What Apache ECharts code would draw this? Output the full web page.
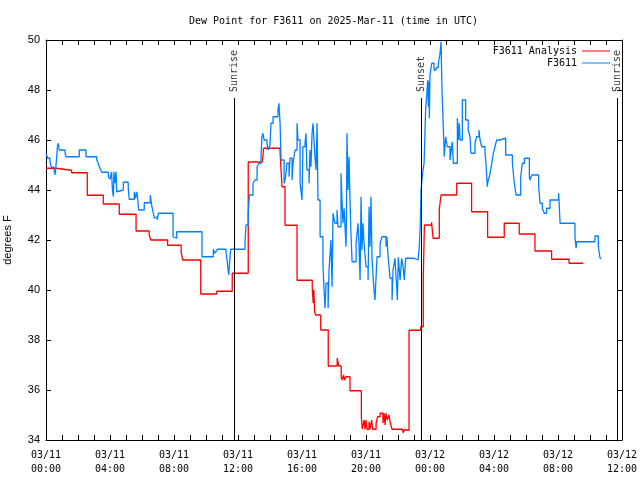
<!DOCTYPE html>
<html><head><meta charset="utf-8">
<script src="https://cdn.jsdelivr.net/npm/echarts/dist/echarts.min.js"></script>
<style>html,body{margin:0;padding:0;background:#fff}#c{width:640px;height:480px}</style>
</head><body><div id="c"></div>
<script>
// Hours since 2025-03-11 00:00 UTC
const anaHours = [0,0.63,1.6,2.58,3.58,4.58,5.63,6.45,6.55,7.6,8.45,8.55,9.67,10.67,11.64,12.64,13.52,13.6,14.63,14.69,14.75,14.94,15.69,16.64,16.7,16.74,16.79,16.85,17.17,17.64,18.2,18.3,18.45,18.52,18.6,18.67,18.75,19.0,19.71,19.77,19.88,19.94,20.0,20.06,20.19,20.25,20.35,20.42,20.63,20.73,20.88,21.06,21.13,21.19,21.25,21.33,21.44,21.52,21.63,22.27,22.33,22.39,22.69,23.42,23.58,23.65,24.1,24.19,24.58,24.69,25.67,26.6,27.6,28.64,29.58,30.56,31.6,32.69,33.58];
const anaValues = [44.87,44.79,44.69,43.79,43.44,43.03,42.36,42.2,42.0,41.79,41.5,41.2,39.84,39.95,40.67,45.12,45.2,45.67,45.52,44.8,44.13,42.59,40.39,40.1,39.48,40.0,39.13,39.0,38.4,36.96,37.27,36.96,36.53,36.4,36.6,36.4,36.53,35.97,34.93,34.43,34.8,34.43,34.8,34.43,34.73,34.43,34.8,34.43,34.67,34.93,35.07,34.67,35.07,34.6,35.07,34.8,35.0,34.67,34.43,34.5,34.29,34.4,38.39,38.53,40.53,42.6,42.71,42.07,43.23,43.8,44.27,43.13,42.11,42.67,42.24,41.56,41.23,41.07,41.07];

const obsHours = [0.0,0.1,0.25,0.29,0.35,0.5,0.56,0.6,0.67,0.71,0.77,0.83,1.19,1.25,2.08,2.5,3.17,3.27,3.33,3.42,3.5,3.9,4.0,4.1,4.15,4.21,4.25,4.31,4.38,4.42,4.48,4.83,5.14,5.2,5.52,5.6,5.67,5.73,5.79,6.14,6.52,6.6,6.71,6.77,6.88,6.96,7.02,7.94,8.06,8.17,9.75,10.46,10.56,10.67,10.71,11.25,11.33,11.38,11.42,11.46,11.54,12.44,12.5,12.64,12.71,12.94,13.06,13.19,13.31,13.44,13.5,13.56,13.63,13.81,13.88,14.0,14.06,14.19,14.5,14.56,14.63,14.69,14.88,14.97,15.06,15.19,15.25,15.38,15.44,15.56,15.69,15.75,15.88,16.0,16.06,16.19,16.25,16.31,16.44,16.5,16.56,16.63,16.69,16.81,16.88,16.94,17.0,17.13,17.31,17.38,17.44,17.5,17.63,17.69,17.81,17.88,17.94,18.06,18.19,18.25,18.44,18.5,18.56,18.63,18.69,18.75,18.78,18.81,18.88,18.94,19.0,19.06,19.13,19.38,19.5,19.56,19.63,19.69,19.75,19.81,19.88,20.0,20.13,20.19,20.25,20.31,20.38,20.5,20.56,20.63,20.69,20.88,21.0,21.25,21.31,21.38,21.44,21.5,21.63,21.69,21.81,21.88,21.96,22.02,22.13,22.23,22.33,22.39,22.48,23.0,23.25,23.33,23.39,23.44,23.54,23.63,23.73,23.79,23.86,23.9,23.94,23.96,24.0,24.11,24.25,24.38,24.52,24.63,24.69,24.75,24.79,24.86,24.89,24.98,25.08,25.25,25.33,25.39,25.46,25.71,25.77,25.83,25.88,26.02,26.23,26.39,26.5,26.56,26.81,26.92,27.06,27.13,27.23,27.44,27.5,27.58,27.64,27.71,27.79,27.86,27.96,28.06,28.17,28.33,28.73,29.15,29.27,29.38,29.67,29.77,29.9,30.21,30.25,30.36,30.79,30.88,31.02,31.14,31.29,31.5,32.04,32.13,33.06,33.13,33.17,34.31,34.52,34.63,34.7];
const obsValues = [45.47,45.27,45.13,45.0,44.91,44.8,44.6,44.8,45.33,45.73,45.87,45.6,45.47,45.33,45.6,45.33,45.2,45.07,44.93,44.8,44.71,44.53,44.43,44.73,44.0,43.73,44.73,44.27,44.73,43.93,44.0,44.31,44.07,43.63,43.93,43.67,43.93,43.67,43.2,43.49,43.8,43.4,43.07,42.87,42.93,42.8,43.07,42.13,42.07,42.33,41.33,41.63,41.47,41.4,41.63,41.5,41.13,40.8,40.6,41.0,41.63,41.93,42.6,43.07,43.8,44.27,44.4,44.93,45.07,45.4,46.13,46.27,46.0,45.87,45.6,45.8,46.67,46.93,47.2,47.47,46.67,45.2,44.27,44.5,45.07,44.53,45.27,44.4,45.07,45.6,46.67,46.0,44.27,43.6,45.73,45.87,46.27,44.8,44.27,45.6,44.93,46.27,46.67,45.33,44.8,46.67,43.6,42.13,41.0,40.0,39.27,40.27,39.27,40.8,42.0,40.13,43.07,42.67,43.2,42.53,44.67,43.6,42.67,43.27,42.53,41.73,43.07,46.27,44.0,45.33,43.6,42.27,41.13,41.87,42.67,41.87,40.4,43.73,41.6,42.67,41.87,40.93,40.4,43.33,41.73,43.73,41.2,40.0,39.6,40.53,41.33,41.87,42.13,41.73,42.13,41.33,40.93,40.47,39.6,40.8,41.27,40.53,39.6,41.31,40.4,41.27,40.87,40.4,41.27,41.2,41.16,41.73,42.6,44.0,44.67,45.07,47.27,47.73,48.4,47.33,48.33,46.87,48.6,49.07,48.8,48.9,49.07,49.47,49.93,48.0,47.27,46.0,45.33,46.13,45.73,45.2,45.6,45.93,45.07,46.87,46.0,46.67,46.0,47.6,46.8,46.4,46.13,45.47,45.87,46.13,46.4,46.0,45.73,45.47,45.07,44.13,44.4,44.53,44.8,45.07,45.47,45.73,46.0,46.07,45.4,45.07,44.27,43.8,44.53,45.07,45.27,44.53,44.4,44.6,44.13,43.47,43.27,43.07,43.27,43.6,43.87,42.67,42.13,41.67,41.93,42.16,41.73,41.27,41.27];

const xTickLabels = ['03/11\n00:00','03/11\n04:00','03/11\n08:00','03/11\n12:00','03/11\n16:00','03/11\n20:00','03/12\n00:00','03/12\n04:00','03/12\n08:00','03/12\n12:00'];
const eventHours = [11.78, 23.44, 35.69];
const eventNames = ['Sunrise', 'Sunset', 'Sunrise'];
const eventTop = 47.68;

const MONO = 'DejaVu Sans Mono';
const zip = (a, b) => a.map((v, i) => [v, b[i]]);

const baseX = {
  type: 'value', min: 0, max: 36, interval: 4,
  axisLine: { show: true, onZero: false, lineStyle: { color: '#000', width: 1 } },
  axisTick: { show: true, inside: true, length: 5, lineStyle: { color: '#000' } },
  minorTick: { show: true, splitNumber: 4, length: 5, lineStyle: { color: '#000' } },
  splitLine: { show: false }, minorSplitLine: { show: false }
};
const baseY = {
  type: 'value', min: 34, max: 50, interval: 2,
  axisLine: { show: true, onZero: false, lineStyle: { color: '#000', width: 1 } },
  axisTick: { show: true, inside: true, length: 5, lineStyle: { color: '#000' } },
  splitLine: { show: false }
};

const chart = echarts.init(document.getElementById('c'), null, { renderer: 'canvas' });
chart.setOption({
  animation: false,
  backgroundColor: '#fff',
  title: {
    text: 'Dew Point for F3611 on 2025-Mar-11 (time in UTC)',
    left: 184, top: 11,
    textStyle: { fontFamily: MONO, fontSize: 10, fontWeight: 'normal', color: '#000' }
  },
  legend: {
    data: ['F3611 Analysis', 'F3611'],
    orient: 'vertical', align: 'right', right: 25, top: 41,
    itemWidth: 28, itemHeight: 1, itemGap: 2, icon: 'rect',
    textStyle: { fontFamily: MONO, fontSize: 10, color: '#000' }
  },
  grid: { left: 46, right: 18, top: 40, bottom: 40, containLabel: false, outerBoundsMode: 'none' },
  xAxis: [
    Object.assign({}, baseX, { position: 'bottom',
      axisLabel: { formatter: v => xTickLabels[Math.round(v / 4)], color: '#000', fontFamily: MONO, fontSize: 10, lineHeight: 14, margin: 8 } }),
    Object.assign({}, baseX, { position: 'top', axisLabel: { show: false } })
  ],
  yAxis: [
    Object.assign({}, baseY, { position: 'left', name: 'degrees F', nameLocation: 'middle', nameGap: 33,
      nameTextStyle: { fontFamily: 'Liberation Sans', fontSize: 11, color: '#000' },
      axisLabel: { color: '#000', fontFamily: 'Liberation Sans', fontSize: 11, margin: 6 } }),
    Object.assign({}, baseY, { position: 'right', axisLabel: { show: false } })
  ],
  series: [
    {
      name: 'F3611 Analysis', type: 'line', step: 'end', showSymbol: false, symbol: 'none',
      data: zip(anaHours, anaValues),
      lineStyle: { color: '#ff0000', width: 1.3 }, itemStyle: { color: '#ff0000' },
      markLine: {
        silent: true, symbol: ['none', 'none'], animation: false,
        lineStyle: { color: '#000', width: 1, type: 'solid' },
        label: { show: false },
        data: eventHours.map(h => [{ coord: [h, 34] }, { coord: [h, eventTop] }])
      }
    },
    {
      name: 'F3611', type: 'line', step: 'end', showSymbol: false, symbol: 'none',
      data: zip(obsHours, obsValues),
      lineStyle: { color: '#0080ff', width: 1.3 }, itemStyle: { color: '#0080ff' }
    },
    {
      type: 'scatter', symbolSize: 0, silent: true,
      data: eventHours.map((h, i) => ({ value: [h, eventTop], name: eventNames[i] })),
      label: {
        show: true, formatter: p => p.name, rotate: 90, position: [0, -6],
        align: 'left', verticalAlign: 'middle',
        fontFamily: MONO, fontSize: 10, color: '#000'
      }
    }
  ]
});
</script>
</body></html>
